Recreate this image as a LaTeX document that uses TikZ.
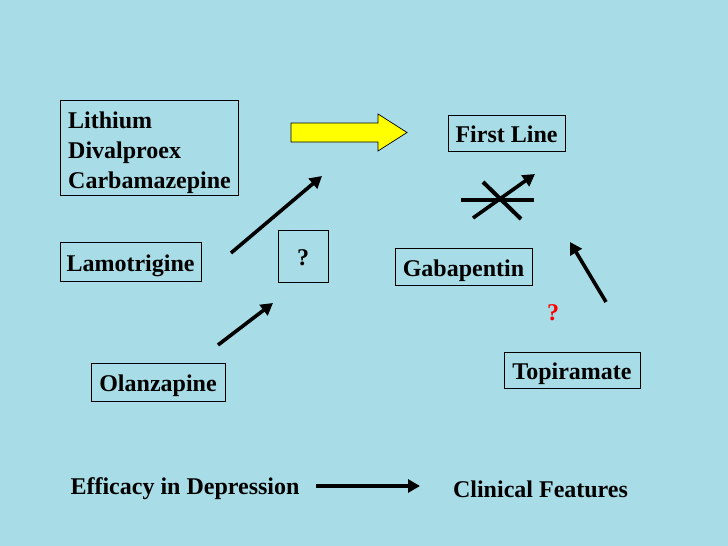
\documentclass[tikz,border=0pt]{standalone}
\usepackage{fontspec}
\setmainfont{Liberation Serif}
\usetikzlibrary{arrows.meta}
\definecolor{bg}{RGB}{168,220,230}
\definecolor{yel}{RGB}{255,255,0}
\begin{document}
\begin{tikzpicture}[x=1pt,y=-1pt,
  lab/.style={font=\fontsize{24}{30}\selectfont\bfseries, inner sep=0pt},
  box/.style={draw=black, line width=0.9pt, lab, text height=19pt, text depth=0pt},
  arr/.style={line width=3.6pt, -{Triangle[length=12pt,width=13pt]}, black}]
\fill[bg] (0,0) rectangle (728,546);
\useasboundingbox (0,0) rectangle (728,546);
% boxes
\node[draw=black, line width=0.9pt, minimum width=178, minimum height=95] (lith) at (149,147.5) {};
\node[lab, align=left, anchor=north west] (lithtxt) at (68,112)
  {Lithium\\Divalproex\\Carbamazepine};
\node[box, minimum width=141, minimum height=39] (lamo) at (130.5,261.5) {Lamotrigine};
\node[box, minimum width=50, minimum height=52] (q) at (303,256) {?};
\node[box, minimum width=134, minimum height=38] (olan) at (158,382) {Olanzapine};
\node[box, minimum width=117, minimum height=36] (first) at (506.5,133) {First Line};
\node[box, minimum width=137, minimum height=37] (gaba) at (463.5,266.5) {Gabapentin};
\node[box, minimum width=136, minimum height=36] (topi) at (572,370) {Topiramate};
\node[lab, text=red] (rq) at (553,313) {?};
\node[lab] (eff) at (185,489) {Efficacy in Depression};
\node[lab] (clin) at (540.5,489) {Clinical Features};
% yellow block arrow
\coordinate (y1) at (291,123); \coordinate (y2) at (378,123); \coordinate (y3) at (378,114);
\coordinate (y4) at (407,132.5); \coordinate (y5) at (378,151); \coordinate (y6) at (378,142);
\coordinate (y7) at (291,142);
\draw[fill=yel, line width=0.7pt, line join=miter] (y1) -- (y2) -- (y3) -- (y4) -- (y5) -- (y6) -- (y7) -- cycle;
% coordinates for free ends
\coordinate (a1s) at (231,253); \coordinate (a1e) at (322,176);
\coordinate (a2s) at (218,345); \coordinate (a2e) at (273,303);
\coordinate (a3s) at (606,302); \coordinate (a3e) at (570,242);
\coordinate (bs) at (316,486); \coordinate (be) at (420,486);
\coordinate (h1) at (461,200); \coordinate (h2) at (534,200);
\coordinate (d1) at (473,218); \coordinate (d2) at (535,174);
\coordinate (e1) at (483,182); \coordinate (e2) at (521,219);
\draw[arr] (a1s) -- (a1e);
\draw[arr] (a2s) -- (a2e);
\draw[arr] (a3s) -- (a3e);
\draw[arr] (bs) -- (be);
\draw[line width=4pt] (h1) -- (h2);
\draw[line width=4pt] (e1) -- (e2);
\draw[arr] (d1) -- (d2);
\end{tikzpicture}
\end{document}
